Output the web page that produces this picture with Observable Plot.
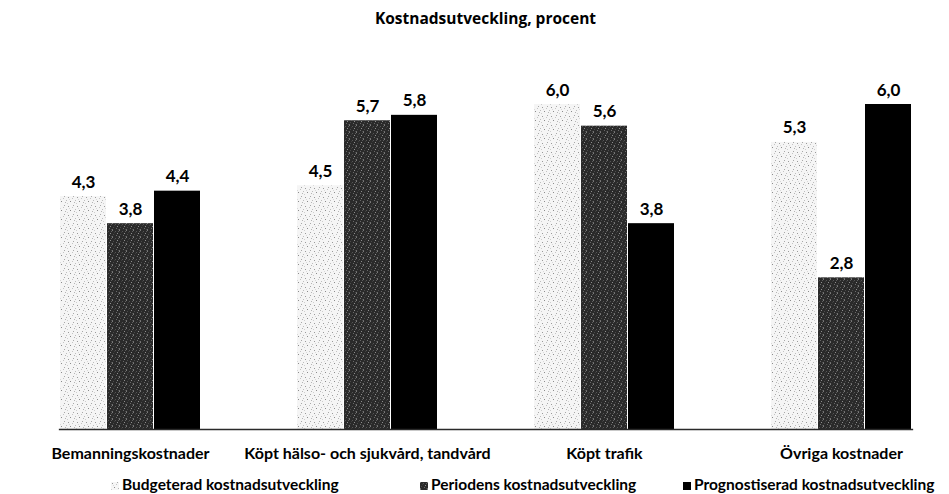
<!DOCTYPE html>
<html>
<head>
<meta charset="utf-8">
<script src="https://cdn.jsdelivr.net/npm/d3@7"></script>
<script src="https://cdn.jsdelivr.net/npm/@observablehq/plot@0.6"></script>
<style>
  html, body { margin: 0; padding: 0; background: #fff; overflow: hidden; }
  #wrap { width: 949px; height: 494px; position: relative; font-family: Lato, "Open Sans", sans-serif; color: #000; }
  #title { height: 34px; line-height: 37px; text-align: center; font-weight: bold; font-size: 15.5px; padding-left: 22px; font-family: "Open Sans", sans-serif; }
  #chart svg { display: block; }
  #legend { position: relative; height: 28px; font-weight: bold; font-size: 15.5px; }
  .item { position: absolute; top: 0; height: 28px; line-height: 36px; white-space: nowrap; }
  .item svg { display: inline-block; vertical-align: baseline; margin-right: 3px; }
</style>
</head>
<body>
<div id="wrap">
  <div id="title">Kostnadsutveckling, procent</div>
  <div id="chart"></div>
  <div id="legend"></div>
</div>
<script>
const categories = ["Bemanningskostnader", "Köpt hälso- och sjukvård, tandvård", "Köpt trafik", "Övriga kostnader"];
const series = ["Budgeterad kostnadsutveckling", "Periodens kostnadsutveckling", "Prognostiserad kostnadsutveckling"];
const budgeterad = [4.3, 4.5, 6.0, 5.3];
const periodens = [3.8, 5.7, 5.6, 2.8];
const prognostiserad = [4.4, 5.8, 3.8, 6.0];
const fills = ["url(#patLight)", "url(#patMid)", "#000000"];

const valuesBySeries = [budgeterad, periodens, prognostiserad];
const rows = [];
categories.forEach((c, i) => {
  series.forEach((s, j) => rows.push({category: c, series: s, value: valuesBySeries[j][i]}));
});

const fmt = v => v.toFixed(1).replace(".", ",");

const plot = Plot.plot({
  width: 949,
  height: 432,
  marginLeft: 10,
  marginRight: 0,
  marginTop: 70,
  marginBottom: 37,
  style: {fontFamily: "Lato, 'Open Sans', sans-serif", fontSize: "16px", fontWeight: "bold", color: "#000", background: "transparent"},
  fx: {domain: categories, paddingInner: 0.4, paddingOuter: 0.173, align: 0.567, label: null, axis: "bottom", tickSize: 0, tickPadding: 18},
  x: {domain: series, axis: null, paddingInner: 0.03, paddingOuter: 0},
  y: {domain: [0, 6], axis: null},
  color: {type: "ordinal", domain: series, range: fills},
  marks: [
    Plot.barY(rows, {fx: "category", x: "series", y: "value", fill: "series"}),
    Plot.text(rows, {fx: "category", x: "series", y: "value", text: d => fmt(d.value), dy: -9, lineAnchor: "bottom", fontSize: 17, fontWeight: "bold", fill: "#000", style: "letter-spacing: 0.8px"}),
    Plot.frame({anchor: "bottom", facet: "super", stroke: "#2a2a2a", strokeWidth: 1.3})
  ]
});

// texture patterns
const defs = d3.select(plot).insert("defs", ":first-child");
const light = defs.append("pattern").attr("id", "patLight").attr("patternUnits", "userSpaceOnUse").attr("width", 9).attr("height", 9);
light.append("rect").attr("width", 9).attr("height", 9).attr("fill", "#f5f5f5");
[[1,1,"#9a9a9a"],[5,2,"#c4c4c4"],[3,5,"#8c8c8c"],[7,6,"#b5b5b5"],[0,7,"#cfcfcf"],[6,0,"#a8a8a8"],[2,3,"#d9d9d9"],[8,4,"#bdbdbd"]].forEach(([x,y,c]) =>
  light.append("rect").attr("x", x).attr("y", y).attr("width", 1).attr("height", 1).attr("fill", c));
const mid = defs.append("pattern").attr("id", "patMid").attr("patternUnits", "userSpaceOnUse").attr("width", 7).attr("height", 7);
mid.append("rect").attr("width", 7).attr("height", 7).attr("fill", "#2a2a2a");
[[0,0,"#7a7a7a"],[3,1,"#555"],[5,3,"#8e8e8e"],[1,4,"#4a4a4a"],[4,5,"#6a6a6a"],[6,6,"#444"],[2,2,"#3d3d3d"],[6,1,"#5e5e5e"],[0,6,"#6f6f6f"]].forEach(([x,y,c]) =>
  mid.append("rect").attr("x", x).attr("y", y).attr("width", 1).attr("height", 1).attr("fill", c));

document.getElementById("chart").appendChild(plot);

// legend
const legendLeft = [111, 420, 683];
const legend = document.getElementById("legend");
series.forEach((s, j) => {
  const item = document.createElement("span");
  item.className = "item";
  item.style.left = legendLeft[j] + "px";
  item.innerHTML = `<svg width="8" height="8"><rect width="8" height="8" fill="${fills[j]}"></rect></svg>${s}`;
  legend.appendChild(item);
});
</script>
</body>
</html>
